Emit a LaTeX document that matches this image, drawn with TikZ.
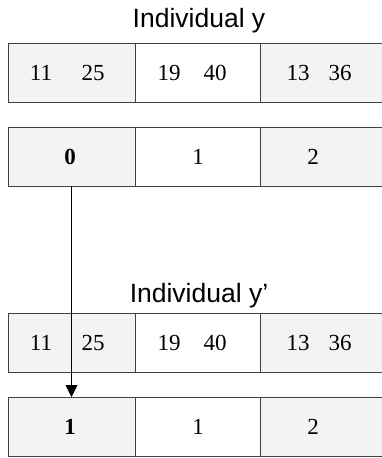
\documentclass[tikz,border=0pt]{standalone}
\usepackage{fontspec}
\setmainfont{Liberation Serif}
\newfontfamily\titlefont{Liberation Sans}
\usetikzlibrary{arrows.meta}
\definecolor{cellgray}{HTML}{F3F3F3}
\definecolor{edgegray}{HTML}{404040}
\tikzset{
  cell/.style={draw=edgegray, line width=0.9pt, rectangle, inner sep=0pt, outer sep=0pt,
    minimum height=59pt, anchor=north west},
  graycell/.style={cell, fill=cellgray},
  whitecell/.style={cell, fill=white},
  digits/.style={font=\fontsize{23}{23}\selectfont, inner sep=0pt},
  title/.style={font=\titlefont\fontsize{26.5}{26.5}\selectfont, inner sep=0pt, anchor=base},
  link/.style={line width=0.9pt, -{Triangle[length=12pt,width=12pt]}}
}
\begin{document}
\begin{tikzpicture}[x=1pt,y=-1pt]
\useasboundingbox (0,0) rectangle (382,458);
\clip (0,0) rectangle (382,458);
% titles
\node[title] (t1) at (199,27) {Individual y};
\node[title] (t2) at (199,302) {Individual y’};
% row 1
\node[graycell, minimum width=127pt] (a1) at (8,43) {};
\node[whitecell, minimum width=125pt] (a2) at (135,43) {};
\node[graycell, minimum width=130pt] (a3) at (260,43) {};
\node[digits] (a1x) at (41,72.5) {11};
\node[digits] (a1y) at (93,72.5) {25};
\node[digits] (a2x) at (169,72.5) {19};
\node[digits] (a2y) at (215,72.5) {40};
\node[digits] (a3x) at (298,72.5) {13};
\node[digits] (a3y) at (340,72.5) {36};
% row 2
\node[graycell, minimum width=127pt] (b1) at (8,127) {};
\node[whitecell, minimum width=125pt] (b2) at (135,127) {};
\node[graycell, minimum width=130pt] (b3) at (260,127) {};
\node[digits] (b1x) at (70,156.5) {\textbf{0}};
\node[digits] (b2x) at (198,156.5) {1};
\node[digits] (b3x) at (313,156.5) {2};
% row 3
\node[graycell, minimum width=127pt] (c1) at (8,313) {};
\node[whitecell, minimum width=125pt] (c2) at (135,313) {};
\node[graycell, minimum width=130pt] (c3) at (260,313) {};
\node[digits] (c1x) at (41,342.5) {11};
\node[digits] (c1y) at (93,342.5) {25};
\node[digits] (c2x) at (169,342.5) {19};
\node[digits] (c2y) at (215,342.5) {40};
\node[digits] (c3x) at (298,342.5) {13};
\node[digits] (c3y) at (340,342.5) {36};
% row 4
\node[graycell, minimum width=127pt] (d1) at (8,397) {};
\node[whitecell, minimum width=125pt] (d2) at (135,397) {};
\node[graycell, minimum width=130pt] (d3) at (260,397) {};
\node[digits] (d1x) at (70,426.5) {\textbf{1}};
\node[digits] (d2x) at (198,426.5) {1};
\node[digits] (d3x) at (313,426.5) {2};
% connector
\draw[link] (b1.south) -- (d1.north);
\end{tikzpicture}
\end{document}
